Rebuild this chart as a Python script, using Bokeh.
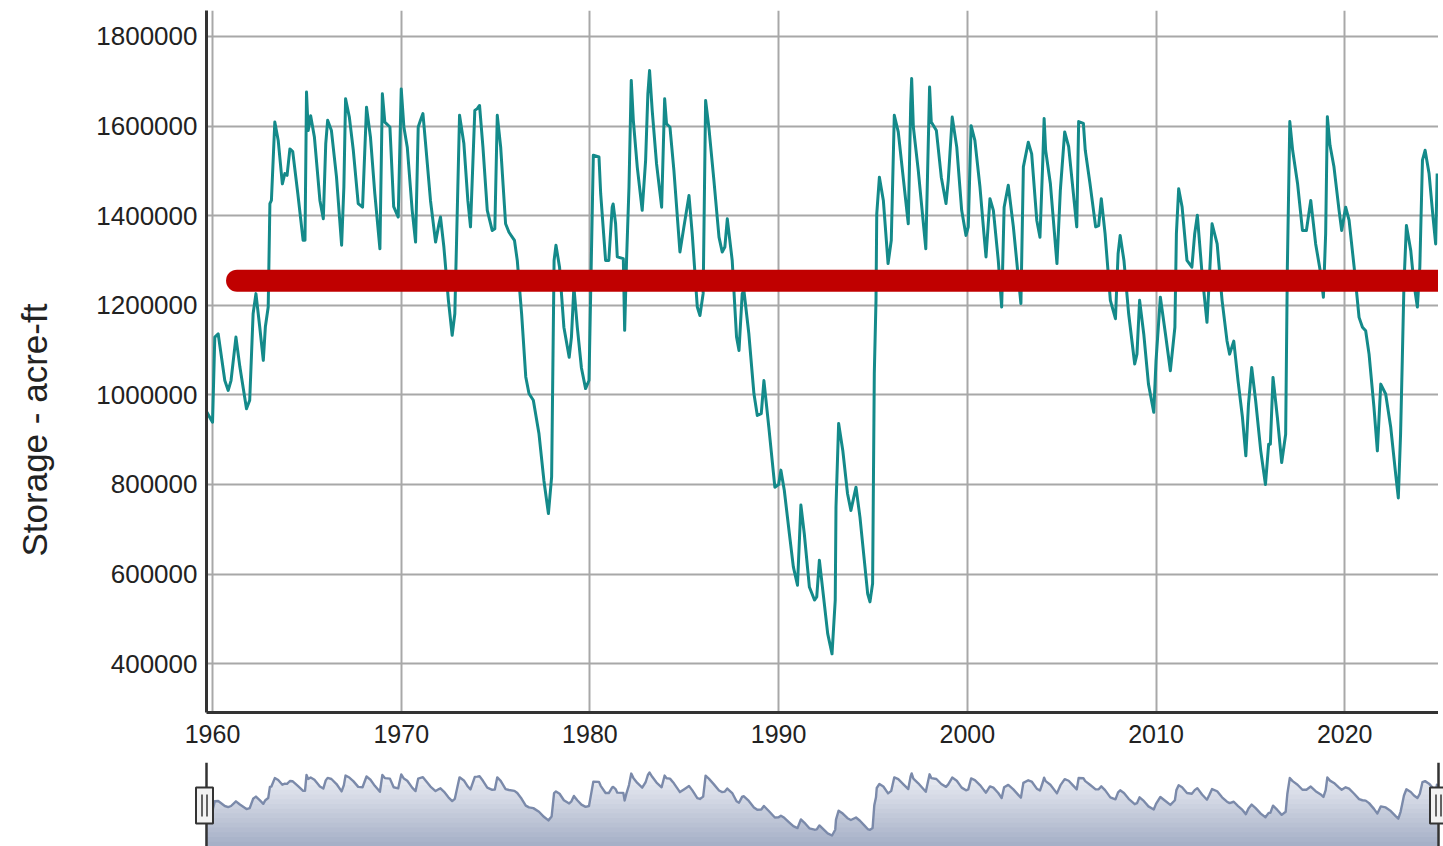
import numpy as np
from bokeh.plotting import figure
from bokeh.layouts import column
from bokeh.models import Range1d, Span, BasicTickFormatter, Title, BoxAnnotation, Arrow
from bokeh.embed import file_html
from bokeh.resources import INLINE

# ---------------- data ----------------
years = [
    1959.65, 1960.0, 1960.12, 1960.3, 1960.65, 1960.83, 1960.98, 1961.24, 1961.45, 1961.8,
    1961.97, 1962.15, 1962.3, 1962.5, 1962.69, 1962.8, 1962.95, 1963.04, 1963.12, 1963.3,
    1963.48, 1963.7, 1963.83, 1963.95, 1964.1, 1964.25, 1964.52, 1964.8, 1964.9, 1964.98,
    1965.07, 1965.2, 1965.4, 1965.69, 1965.87, 1966.0, 1966.1, 1966.3, 1966.57, 1966.84,
    1966.96, 1967.05, 1967.25, 1967.46, 1967.72, 1967.95, 1968.16, 1968.37, 1968.6, 1968.87,
    1969.0, 1969.13, 1969.4, 1969.6, 1969.84, 1970.0, 1970.14, 1970.32, 1970.58, 1970.76,
    1970.9, 1971.02, 1971.15, 1971.29, 1971.55, 1971.82, 1972.0, 1972.08, 1972.26, 1972.5,
    1972.7, 1972.84, 1973.09, 1973.32, 1973.53, 1973.67, 1973.9, 1974.03, 1974.15, 1974.33,
    1974.56, 1974.82, 1974.96, 1975.09, 1975.27, 1975.53, 1975.71, 1976.0, 1976.15, 1976.38,
    1976.6, 1976.77, 1977.0, 1977.3, 1977.56, 1977.8, 1977.97, 1978.1, 1978.2, 1978.39,
    1978.62, 1978.9, 1979.02, 1979.15, 1979.33, 1979.55, 1979.77, 1979.95, 1980.18, 1980.48,
    1980.57, 1980.83, 1981.0, 1981.18, 1981.23, 1981.36, 1981.45, 1981.77, 1981.84, 1981.94,
    1982.07, 1982.19, 1982.3, 1982.51, 1982.77, 1982.95, 1983.07, 1983.16, 1983.3, 1983.53,
    1983.8, 1983.96, 1984.06, 1984.24, 1984.45, 1984.77, 1984.98, 1985.25, 1985.42, 1985.69,
    1985.83, 1986.0, 1986.13, 1986.3, 1986.57, 1986.84, 1987.01, 1987.15, 1987.28, 1987.54,
    1987.77, 1987.9, 1988.07, 1988.16, 1988.42, 1988.69, 1988.87, 1989.08, 1989.22, 1989.48,
    1989.8, 1990.0, 1990.12, 1990.3, 1990.57, 1990.78, 1991.0, 1991.18, 1991.36, 1991.63,
    1991.9, 1992.02, 1992.16, 1992.34, 1992.6, 1992.83, 1993.0, 1993.04, 1993.18, 1993.4,
    1993.65, 1993.83, 1994.1, 1994.31, 1994.54, 1994.72, 1994.84, 1994.98, 1995.07, 1995.16,
    1995.2, 1995.34, 1995.55, 1995.8, 1995.97, 1996.13, 1996.34, 1996.6, 1996.87, 1997.0,
    1997.05, 1997.14, 1997.4, 1997.8, 1998.0, 1998.09, 1998.36, 1998.62, 1998.87, 1998.99,
    1999.2, 1999.44, 1999.7, 1999.93, 2000.05, 2000.2, 2000.4, 2000.67, 2000.88, 2000.99,
    2001.2, 2001.38, 2001.64, 2001.82, 2001.95, 2002.17, 2002.44, 2002.7, 2002.84, 2002.97,
    2003.23, 2003.41, 2003.68, 2003.85, 2004.0, 2004.07, 2004.15, 2004.4, 2004.75, 2004.93,
    2005.16, 2005.37, 2005.55, 2005.8, 2005.9, 2006.15, 2006.25, 2006.5, 2006.8, 2006.96,
    2007.1, 2007.3, 2007.58, 2007.85, 2007.99, 2008.1, 2008.3, 2008.55, 2008.87, 2008.99,
    2009.13, 2009.35, 2009.6, 2009.88, 2010.0, 2010.23, 2010.5, 2010.76, 2011.0, 2011.08,
    2011.2, 2011.38, 2011.64, 2011.9, 2012.05, 2012.19, 2012.44, 2012.7, 2012.83, 2012.97,
    2013.24, 2013.5, 2013.76, 2013.9, 2014.12, 2014.35, 2014.58, 2014.76, 2014.9, 2015.07,
    2015.28, 2015.55, 2015.8, 2015.97, 2016.06, 2016.2, 2016.43, 2016.66, 2016.87, 2016.96,
    2017.09, 2017.24, 2017.5, 2017.76, 2017.97, 2018.2, 2018.46, 2018.73, 2018.87, 2018.99,
    2019.08, 2019.22, 2019.43, 2019.7, 2019.84, 2020.05, 2020.23, 2020.5, 2020.76, 2020.94,
    2021.11, 2021.29, 2021.55, 2021.73, 2021.91, 2022.17, 2022.44, 2022.7, 2022.84, 2022.96,
    2023.05, 2023.14, 2023.27, 2023.5, 2023.67, 2023.85, 2023.98, 2024.12, 2024.26, 2024.47,
    2024.68, 2024.82, 2024.9,
]

storage = [
    965000, 939000, 1129000, 1136000, 1032000, 1010000, 1032000, 1129000, 1062000, 969000,
    988000, 1181000, 1226000, 1152000, 1077000, 1152000, 1196000, 1427000, 1434000, 1609000,
    1568000, 1471000, 1494000, 1490000, 1549000, 1543000, 1449000, 1345000, 1345000, 1676000,
    1590000, 1623000, 1575000, 1434000, 1393000, 1561000, 1613000, 1590000, 1486000, 1334000,
    1464000, 1661000, 1620000, 1546000, 1427000, 1419000, 1642000, 1575000, 1449000, 1326000,
    1672000, 1609000, 1598000, 1420000, 1397000, 1683000, 1598000, 1553000, 1412000, 1341000,
    1598000, 1613000, 1628000, 1561000, 1434000, 1341000, 1382000, 1397000, 1330000, 1211000,
    1133000, 1181000, 1624000, 1561000, 1434000, 1375000, 1635000, 1639000, 1646000, 1553000,
    1412000, 1367000, 1371000, 1624000, 1553000, 1382000, 1363000, 1345000, 1300000, 1181000,
    1040000, 1003000, 988000, 913000, 809000, 735000, 817000, 1300000, 1334000, 1285000,
    1151000, 1084000, 1129000, 1241000, 1151000, 1060000, 1014000, 1032000, 1535000, 1531000,
    1449000, 1300000, 1300000, 1419000, 1426000, 1382000, 1308000, 1304000, 1144000, 1300000,
    1464000, 1702000, 1613000, 1508000, 1412000, 1523000, 1672000, 1724000, 1635000, 1516000,
    1419000, 1661000, 1605000, 1598000, 1501000, 1319000, 1375000, 1445000, 1360000, 1196000,
    1177000, 1226000, 1657000, 1598000, 1479000, 1352000, 1319000, 1330000, 1393000, 1300000,
    1129000, 1099000, 1226000, 1233000, 1137000, 1003000, 954000, 958000, 1032000, 928000,
    794000, 800000, 832000, 787000, 690000, 616000, 575000, 754000, 690000, 571000,
    542000, 549000, 631000, 564000, 467000, 422000, 542000, 750000, 936000, 876000,
    780000, 742000, 794000, 727000, 631000, 556000, 538000, 579000, 1047000, 1211000,
    1404000, 1486000, 1434000, 1293000, 1345000, 1624000, 1587000, 1486000, 1382000, 1650000,
    1706000, 1598000, 1501000, 1326000, 1687000, 1609000, 1590000, 1486000, 1427000, 1479000,
    1620000, 1553000, 1412000, 1356000, 1375000, 1601000, 1568000, 1464000, 1360000, 1308000,
    1438000, 1412000, 1300000, 1196000, 1419000, 1468000, 1375000, 1263000, 1204000, 1509000,
    1564000, 1538000, 1390000, 1352000, 1523000, 1617000, 1546000, 1472000, 1293000, 1457000,
    1587000, 1554000, 1479000, 1375000, 1610000, 1606000, 1546000, 1472000, 1375000, 1378000,
    1438000, 1360000, 1211000, 1170000, 1315000, 1356000, 1300000, 1181000, 1069000, 1091000,
    1211000, 1136000, 1024000, 961000, 1076000, 1218000, 1136000, 1054000, 1151000, 1360000,
    1460000, 1420000, 1300000, 1285000, 1360000, 1401000, 1270000, 1162000, 1263000, 1382000,
    1337000, 1211000, 1121000, 1091000, 1120000, 1030000, 950000, 864000, 979000, 1061000,
    987000, 875000, 800000, 890000, 890000, 1039000, 950000, 849000, 912000, 1285000,
    1610000, 1546000, 1472000, 1367000, 1367000, 1434000, 1337000, 1270000, 1218000, 1360000,
    1621000, 1557000, 1509000, 1412000, 1367000, 1419000, 1390000, 1285000, 1173000, 1151000,
    1143000, 1091000, 972000, 875000, 1024000, 1002000, 927000, 823000, 770000, 912000,
    1076000, 1248000, 1378000, 1322000, 1248000, 1196000, 1285000, 1524000, 1546000, 1494000,
    1397000, 1337000, 1494000,
]

threshold_value = 1255000
threshold_start_year = 1961.3

x_ticks = [1960, 1970, 1980, 1990, 2000, 2010, 2020]
y_ticks = [400000, 600000, 800000, 1000000, 1200000, 1400000, 1600000, 1800000]
y_axis_title = "Storage - acre-ft"

# ---------------- styling / layout constants ----------------
X_START, X_END = 1959.68, 2024.97
Y_START, Y_END = 291000, 1858000
NAV_Y0, NAV_Y1 = 195000, 1931000
HANDLE_VALUE = 1043000

TEAL = "#148a8a"
RED = "#c00000"
GRID = "#a8a8a8"
AXIS = "#333333"
TEXT = "#222222"
FONT = "Liberation Sans"

SHIFT = 30                      # layout is pulled left so the y title sits near the edge
LEFT = 206 + SHIFT              # frame left edge inside the figure
FIG_W = 1438 + SHIFT
MAIN_H, MAIN_TOP, MAIN_BOTTOM = 757, 10, 45
NAV_H, NAV_TOP = 89, 5
NAV_LEFT_EXTRA, NAV_RIGHT_EXTRA = 14, 5
frame_w = FIG_W - LEFT
frame_h = MAIN_H - MAIN_TOP - MAIN_BOTTOM
nav_frame_h = NAV_H - NAV_TOP
px_per_year = frame_w / (X_END - X_START)
px_per_nav_unit = nav_frame_h / (NAV_Y1 - NAV_Y0)

# ---------------- main chart ----------------
p = figure(width=FIG_W, height=MAIN_H,
           x_range=Range1d(X_START, X_END), y_range=Range1d(Y_START, Y_END),
           output_backend="svg", toolbar_location=None,
           min_border_left=LEFT, min_border_right=0,
           min_border_top=MAIN_TOP, min_border_bottom=MAIN_BOTTOM)
p.outline_line_color = None
p.background_fill_color = "white"
p.border_fill_color = "white"

p.line(years, storage, line_color=TEAL, line_width=3, line_join="round")
p.line([threshold_start_year, X_END], [threshold_value, threshold_value],
       line_color=RED, line_width=22, line_cap="round")

p.xaxis.ticker = x_ticks
p.yaxis.ticker = y_ticks
p.yaxis.formatter = BasicTickFormatter(use_scientific=False)

for ax in (p.xaxis, p.yaxis):
    ax.major_tick_in = 0
    ax.major_tick_out = 0
    ax.minor_tick_in = 0
    ax.minor_tick_out = 0
    ax.axis_line_color = AXIS
    ax.axis_line_width = 3
    ax.major_label_text_font = FONT
    ax.major_label_text_color = TEXT

p.xaxis.major_label_text_font_size = "25px"
p.yaxis.major_label_text_font_size = "26px"
p.xaxis.major_label_standoff = 12
p.yaxis.major_label_standoff = 9

p.grid.grid_line_color = GRID
p.grid.grid_line_width = 2

# y-axis title, placed lower than the frame centre as in the reference
p.add_layout(Title(text=y_axis_title, align="left", offset=156, standoff=80,
                   text_font=FONT, text_font_size="35px", text_font_style="normal",
                   text_color=TEXT), "left")

# ---------------- navigator ----------------
nav = figure(width=FIG_W + NAV_RIGHT_EXTRA, height=NAV_H,
             x_range=Range1d(X_START - NAV_LEFT_EXTRA / px_per_year,
                             X_END + NAV_RIGHT_EXTRA / px_per_year),
             y_range=Range1d(NAV_Y0, NAV_Y1),
             x_axis_type=None, y_axis_type=None,
             output_backend="svg", toolbar_location=None,
             min_border_left=LEFT - NAV_LEFT_EXTRA, min_border_right=0,
             min_border_top=NAV_TOP, min_border_bottom=0)
nav.outline_line_color = None
nav.grid.visible = False

for fig in (p, nav):
    try:
        fig.frame_align = False
    except AttributeError:
        pass

store = np.array(storage, dtype=float)
n_bands = 16
tops = np.linspace(NAV_Y0, 1760000, n_bands + 1)[1:]
c_bottom = np.array([166, 176, 199])
c_top = np.array([238, 240, 246])
for k in range(n_bands - 1, -1, -1):
    t = k / (n_bands - 1)
    c = (c_bottom + (c_top - c_bottom) * t).astype(int)
    hi = tops[k] if k < n_bands - 1 else NAV_Y1
    nav.varea(x=years, y1=NAV_Y0, y2=np.clip(store, NAV_Y0, hi),
              fill_color="#%02x%02x%02x" % tuple(c), fill_alpha=1.0)

nav.line(years, storage, line_color="#7b8aaa", line_width=2.4, line_join="round")

for loc in (X_START, X_END):
    nav.add_layout(Span(location=loc, dimension="height", line_color=AXIS, line_width=2.5))

hw = 8.5 / px_per_year
hh = 18 / px_per_nav_unit
ih = 11 / px_per_nav_unit
dx = 2.5 / px_per_year
hshift = 2 / px_per_year
for loc in (X_START - hshift, X_END):
    nav.add_layout(BoxAnnotation(left=loc - hw, right=loc + hw,
                                 bottom=HANDLE_VALUE - hh, top=HANDLE_VALUE + hh,
                                 fill_color="#f2f2f2", fill_alpha=1.0,
                                 line_color=AXIS, line_alpha=1.0, line_width=2))
    for off in (-dx, dx):
        nav.add_layout(Arrow(end=None, x_start=loc + off, x_end=loc + off,
                             y_start=HANDLE_VALUE - ih, y_end=HANDLE_VALUE + ih,
                             line_color=AXIS, line_width=1.5))

layout = column(p, nav, spacing=0, styles={"margin-left": f"-{SHIFT}px"})
open("out.html", "w").write(file_html(layout, INLINE))
